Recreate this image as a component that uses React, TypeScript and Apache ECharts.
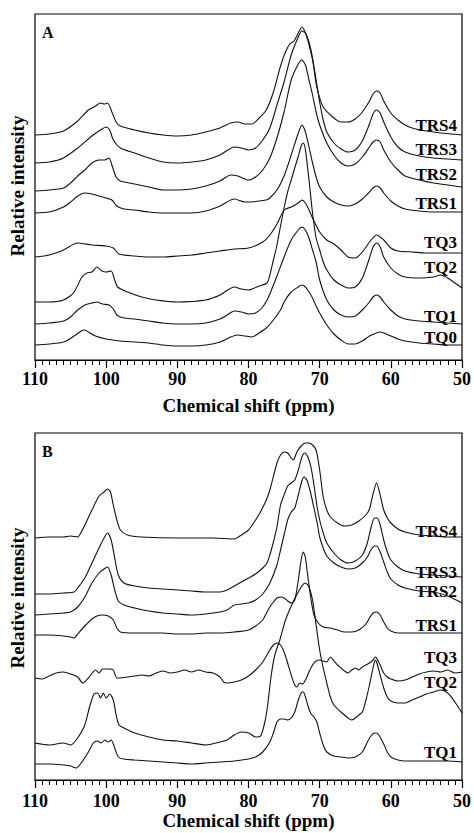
import React, { useEffect, useRef } from "react";
import * as echarts from "echarts";

// Panel A spectra: [chemical shift (ppm), relative intensity (stacked, arbitrary units)]
const aTRS4: number[][] = [[110,225],[108,226],[106,229],[104,239],[102.5,250],[101.5,254],[100.8,257],[100.3,256],[99.8,257],[99.2,248],[98.6,238],[98,234],[96,230],[94,227],[92,225],[90,224],[88,225],[86,228],[84,232],[82.5,237],[81.5,238],[80.5,236],[79.5,236],[78.5,242],[77.5,250],[76.5,268],[75.5,294],[74.8,308],[74.2,316],[73.6,319],[73,327],[72.5,333],[71.8,323],[71,300],[70.4,273],[69.5,253],[68,242],[67,238],[66,238],[65,241],[64,248],[63,259],[62.5,266],[62,269],[61.5,267],[61,259],[60,247],[59,240],[58,235],[57,232],[55,229],[53,227],[50,225]];
const aTRS3: number[][] = [[110,197],[108,198],[106,202],[104,212],[102,224],[100.8,230],[100,233],[99.5,230],[99,220],[98,212],[96,207],[94,202],[92,198],[90,197],[88,198],[86,200],[84,205],[82,213],[81,212],[80,210],[79,212],[78,220],[77,232],[76,255],[75,278],[74,305],[73,323],[72.5,329],[72,327],[71.5,318],[71,302],[70.5,280],[70,258],[69.5,240],[69,228],[68,217],[67,211],[66,208],[65,210],[64,219],[63,236],[62.5,246],[62,250],[61.5,247],[61,238],[60,223],[59,213],[58,208],[56,204],[54,202],[52,201],[50,200]];
const aTRS2: number[][] = [[110,169],[108,170],[106,172],[105,177],[104,184],[103,190],[102,197],[101,200],[100.2,200],[99.6,202],[99.2,195],[98.6,183],[98,179],[96,176],[94,173],[92,170],[90,170],[88,171],[86,174],[84,179],[82.5,185],[81.5,184],[80,180],[79,183],[78,190],[77,202],[76,222],[75,248],[74,280],[73,296],[72.5,300],[72,295],[71.5,280],[71,265],[70.5,248],[70,235],[69,217],[68,205],[67,197],[66,194],[65,196],[64,203],[63,213],[62.5,218],[62,220],[61.5,218],[61,210],[60,198],[59,190],[58,184],[56,180],[54,177],[52,175],[50,173]];
const aTRS1: number[][] = [[110,147],[108,148],[106,153],[105,158],[104,164],[103,167],[102,166],[101,164],[100,162],[99.2,160],[98.5,154],[97.5,151],[96,150],[94,148],[92,147],[90,147],[88,147],[86,149],[84,154],[82,161],[80.5,158],[79.5,158],[78.5,159],[77.5,160],[77,162],[76,170],[75,184],[74,205],[73,227],[72.5,235],[72,228],[71.5,213],[71,197],[70.5,183],[70,173],[69,163],[68,158],[67,155],[66,154],[65,156],[64,161],[63,168],[62.5,172],[62,174],[61.5,172],[61,167],[60,159],[59,154],[58,151],[56,149],[54,148],[52,148],[50,148]];
const aTQ3: number[][] = [[110,103],[108,105],[106,110],[104,117],[102,115],[100,114],[99,112],[98.2,106],[96,104],[94,103],[92,103],[90,104],[88,105],[86,107],[84,109],[82,111],[80,112],[78,118],[77,125],[76,136],[75,150],[74,153],[73,157],[72.5,160],[72,157],[71.5,150],[71,142],[70,128],[69,120],[68,116],[67,110],[66,103],[65,102],[64,108],[63,118],[62,125],[61,120],[60,112],[59,109],[57,108],[55,107],[50,107]];
const aTQ2: number[][] = [[110,58],[108,58],[106,60],[104.6,67],[103.4,83],[102.7,87],[102,88],[101.3,93],[100.6,89],[100,88],[99.3,89],[98.8,80],[98.4,73],[97,68],[95,63],[93,60],[90,58],[86,60],[84,65],[82,73],[81,71],[80,70],[78.5,74],[77.4,77],[77,85],[76.5,100],[76,115],[75.5,134],[75,152],[74.5,168],[74,180],[73.5,192],[73,204],[72.6,214],[72.3,217],[72,210],[71.5,180],[71,147],[70.5,122],[70,110],[69.5,98],[69,90],[68,80],[67,75],[66,72],[65,73],[64,82],[63,102],[62.5,113],[62,117],[61.5,113],[61,103],[60,92],[59,86],[58,83],[56,82],[54,83],[53,85],[52,82],[51,77],[50,72]];
const aTQ1: number[][] = [[110,36],[108,37],[106,39],[105,43],[104,50],[103,55],[102,57],[101.3,58],[100.5,56],[99.6,55],[99,51],[98.5,45],[97.5,42],[96,41],[94,39],[92,37],[90,36],[88,36],[86,37],[84,41],[83,45],[82,49],[81,48],[80,46],[79,47],[78,53],[77.4,60],[77,66],[76,84],[75,103],[74,120],[73,130],[72.5,133],[72,130],[71.5,122],[71,110],[70.5,98],[70,80],[69,60],[68,50],[67,45],[66,43],[65,44],[64,50],[63,58],[62.5,63],[62,65],[61.5,63],[61,58],[60,50],[59,44],[58,41],[56,39],[54,38],[52,37],[50,36]];
const aTQ0: number[][] = [[110,15],[108,16],[106,18],[104.5,24],[103.5,29],[103,30],[102.5,28],[101.5,24],[100,21],[98,19],[96,18],[94,17],[92,15],[90,14],[88,14],[86,15],[84,18],[82.5,23],[81.5,25],[80.5,24],[79.5,23],[78.5,27],[77.5,32],[76.5,40],[75.5,50],[75,58],[74,68],[73,73],[72.5,75],[72,73],[71.5,68],[71,62],[70.5,54],[70,47],[69,35],[68,26],[67,20],[66,16],[65,16],[64,19],[63,24],[62,27],[61.5,28],[61,27],[60,24],[59,21],[58,19],[56,17],[54,16],[52,15],[50,15]];

// Panel B spectra
const bTRS4: number[][] = [[110,242],[108,243],[106,243],[105,244],[104,243],[103.5,248],[103,255],[102,270],[101,284],[100.3,288],[99.8,291],[99.4,288],[99,275],[98.5,260],[98,250],[97,245],[95,243],[90,242],[85,242],[82,241],[81,245],[80,250],[79,260],[78.4,267],[77.5,280],[77,290],[76,317],[75.5,325],[75,328],[74.5,327],[74,322],[73.7,320],[73.2,328],[72.6,334],[72,337],[71.5,337],[71,335],[70.5,330],[70,310],[69.5,283],[69,270],[68.5,263],[67.5,257],[66.5,254],[65.5,255],[64.5,259],[63.5,265],[63,271],[62.5,286],[62,297],[61.5,285],[61,270],[60.5,262],[60,257],[59,251],[58,248],[56,245],[54,244],[52,243],[50,243]];
const bTRS3: number[][] = [[110,186],[108,186],[106,187],[104.5,188],[104,192],[103,202],[102,217],[101,232],[100.3,242],[99.8,247],[99.3,240],[98.8,222],[98.3,205],[97.5,197],[96,194],[94,192],[92,191],[90,190],[88,189],[86,188],[84,188],[83,190],[82,194],[81,198],[80,202],[79,206],[78,212],[77.4,217],[77,225],[76.5,238],[76,253],[75.5,275],[75,285],[74.5,294],[74,297],[73.5,300],[73,310],[72.5,323],[72.1,327],[71.6,322],[71.2,312],[70.8,295],[70.4,275],[70,260],[69.5,247],[69,237],[68,227],[67,220],[66,217],[65,219],[64,225],[63.3,237],[62.8,252],[62.3,262],[61.9,262],[61.5,255],[61,240],[60.5,228],[60,220],[59,213],[58,209],[56,206],[54,205],[52,204],[50,203]];
const bTRS2: number[][] = [[110,165],[108,166],[106,167],[105,168],[104,173],[103,183],[102,197],[101,207],[100.3,211],[99.8,213],[99.3,205],[98.8,190],[98.3,179],[97.5,175],[96,172],[94,169],[92,167],[90,166],[88,165],[86,166],[84,168],[83,170],[82,175],[81,176],[80,177],[79,180],[78,186],[77,197],[76,215],[75.5,230],[75,245],[74.5,260],[74,268],[73.5,272],[73,285],[72.5,299],[72.2,303],[71.8,300],[71.3,288],[70.8,272],[70.3,255],[70,243],[69.5,232],[69,224],[68,217],[67,213],[66,211],[65,212],[64,217],[63.3,223],[62.8,230],[62.3,234],[62,234],[61.5,228],[61,218],[60.5,208],[60,201],[59,195],[58,192],[56,189],[54,188],[52,184],[50,177]];
const bTRS1: number[][] = [[110,145],[108,145],[106,144],[105,143],[104.5,142],[104,146],[103,154],[102,161],[101.3,164],[100.5,165],[99.7,164],[99,160],[98.5,152],[98,148],[96,147],[94,147],[92,147],[90,146],[88,146],[86,147],[84,147],[82,148],[80,150],[79,154],[78,160],[77.4,168],[77,173],[76.5,178],[76,182],[75.5,183],[75,182],[74.5,179],[74,177],[73.5,180],[73,200],[72.6,220],[72.3,228],[72,222],[71.6,200],[71.2,180],[70.8,165],[70.2,157],[69.5,153],[68.5,152],[67.5,150],[66.5,148],[65.5,148],[64.5,150],[63.5,156],[63,162],[62.5,167],[62,168],[61.5,165],[61,158],[60.5,152],[60,149],[59,147],[57,147],[55,147],[50,147]];
const bTQ3: number[][] = [[110,102],[109,101],[108,104],[107,107],[106,108],[105,106],[104,103],[103.3,97],[102.5,102],[101.5,110],[101,107],[100.5,111],[99.5,111],[99,110],[98.5,102],[98,102],[97,103],[96,104],[95,105],[94,104],[93,107],[92,109],[91,107],[90,108],[89,110],[88,108],[87,110],[86,108],[85,107],[84,103],[83.5,98],[83,97],[82,98],[81,100],[80,104],[79,110],[78,118],[77,130],[76.5,135],[76,137],[75.5,135],[75,128],[74.5,117],[74,105],[73.5,95],[73.2,93],[72.8,97],[72.4,96],[72,100],[71.5,108],[71,115],[70.5,119],[70,120],[69.5,119],[69,118],[68.5,123],[68,119],[67.5,115],[67,112],[66.5,109],[66,107],[65.5,110],[65,112],[64.5,110],[64,113],[63.5,115],[63,117],[62.5,120],[62.2,123],[62,122],[61.5,115],[61,107],[60.5,103],[60,101],[59,99],[58,100],[57,103],[56,106],[55,108],[54,109],[53,108],[52,110],[51,107],[50,108]];
const bTQ2: number[][] = [[110,37],[108,35],[106,37],[105,35],[104,42],[103,55],[102.3,74],[101.7,86],[101.2,87],[100.8,82],[100.4,87],[100,82],[99.5,86],[99,80],[98.6,65],[98.2,55],[97.5,52],[96,47],[94,43],[92,40],[90,39],[88,37],[86,35],[84,38],[83,40],[82,45],[81,48],[80,47],[79,43],[78.3,44],[77.8,55],[77.4,70],[76.8,105],[76.3,125],[75.6,140],[74.8,160],[73.8,177],[73,188],[72.4,195],[72,197],[71.5,193],[71,180],[70.5,155],[70,130],[69.5,112],[69,97],[68.5,83],[68,75],[67,68],[66,62],[65.5,60],[65,62],[64.5,65],[64,68],[63.5,80],[63,95],[62.5,112],[62.2,120],[62,118],[61.5,105],[61,92],[60.5,83],[60,79],[59,77],[58,77],[57,80],[56,83],[55,86],[54,88],[53,90],[52,87],[51,78],[50,67]];
const bTQ1: number[][] = [[110,16],[108,16],[106,15],[105,14],[104.2,12],[103.5,17],[102.5,28],[101.8,37],[101.2,39],[100.7,37],[100.2,40],[99.7,38],[99.3,40],[98.8,32],[98.3,23],[97.5,21],[96,20],[94,19],[92,18],[90,17],[88,16],[86,17],[84,18],[82,19],[80,21],[79,23],[78,28],[77,38],[76.5,47],[76,58],[75.5,61],[75,61],[74.5,60],[74,62],[73.5,68],[73,80],[72.6,87],[72.3,88],[72,83],[71.6,73],[71.2,66],[70.8,63],[70.4,58],[70,47],[69.5,35],[69,28],[68,24],[67,23],[66,22],[65,23],[64,28],[63.3,38],[62.8,44],[62.3,47],[62,47],[61.6,44],[61,36],[60.5,28],[60,23],[59,20],[58,19],[56,19],[54,19],[52,19],[50,18]];

const namesA = ["TRS4", "TRS3", "TRS2", "TRS1", "TQ3", "TQ2", "TQ1", "TQ0"];
const namesB = ["TRS4", "TRS3", "TRS2", "TRS1", "TQ3", "TQ2", "TQ1"];
const seriesA = [aTRS4, aTRS3, aTRS2, aTRS1, aTQ3, aTQ2, aTQ1, aTQ0];
const seriesB = [bTRS4, bTRS3, bTRS2, bTRS1, bTQ3, bTQ2, bTQ1];
const xTicks = { min: 50, max: 110, interval: 10 };
const axisTitle = "Chemical shift (ppm)";
const yTitle = "Relative intensity";

// layout (pixels)
const labelYA = [125, 149, 174, 203, 242, 267, 316, 337];
const labelYB = [531, 572, 591, 625, 657, 682, 752];

const FONT = "'Liberation Serif', 'Times New Roman', serif";

export default function App() {
  const ref = useRef<HTMLDivElement>(null);
  useEffect(() => {
    if (!ref.current) return;
    const chart = echarts.init(ref.current, null, { renderer: "svg" });
    const xAxis = (gridIndex: number, gap: number, margin: number) => ({
      type: "value",
      gridIndex,
      min: xTicks.min,
      max: xTicks.max,
      interval: xTicks.interval,
      inverse: true,
      axisLine: { show: true, onZero: false, lineStyle: { color: "#000", width: 1.2 } },
      axisTick: { show: true, inside: false, length: 8, lineStyle: { color: "#000", width: 1.2 } },
      minorTick: { show: true, splitNumber: 10, length: 5, lineStyle: { color: "#000", width: 1 } },
      splitLine: { show: false },
      minorSplitLine: { show: false },
      axisLabel: { color: "#000", fontFamily: FONT, fontWeight: "bold", fontSize: 18, margin },
      name: axisTitle,
      nameLocation: "middle",
      nameGap: gap,
      nameTextStyle: { color: "#000", fontFamily: FONT, fontWeight: "bold", fontSize: 19 },
    });
    const yAxis = (gridIndex: number, max: number) => ({
      type: "value",
      gridIndex,
      min: 0,
      max,
      show: false,
    });
    const mk = (data: number[][], name: string, idx: number) => ({
      type: "line",
      name,
      xAxisIndex: idx,
      yAxisIndex: idx,
      data,
      symbol: "none",
      showSymbol: false,
      smooth: 0.25,
      lineStyle: { color: "#111", width: 1.1 },
      silent: true,
    });
    const labelText = (text: string, y: number) => ({
      type: "text",
      right: 474 - 457,
      y: y,
      style: {
        text,
        fill: "#000",
        font: `bold 17px ${FONT}`,
        textAlign: "right",
        textVerticalAlign: "middle",
      },
    });
    const graphics: any[] = [];
    namesA.forEach((n, i) =>
      graphics.push({
        type: "text",
        x: 457,
        y: labelYA[i],
        style: { text: n, fill: "#000", font: `bold 17px ${FONT}`, align: "right", verticalAlign: "middle" },
      })
    );
    namesB.forEach((n, i) =>
      graphics.push({
        type: "text",
        x: 457,
        y: labelYB[i],
        style: { text: n, fill: "#000", font: `bold 17px ${FONT}`, align: "right", verticalAlign: "middle" },
      })
    );
    graphics.push({
      type: "text",
      x: 42,
      y: 32,
      style: { text: "A", fill: "#000", font: `bold 16px ${FONT}`, align: "left", verticalAlign: "middle" },
    });
    graphics.push({
      type: "text",
      x: 42,
      y: 451,
      style: { text: "B", fill: "#000", font: `bold 16px ${FONT}`, align: "left", verticalAlign: "middle" },
    });
    [186, 598].forEach((cy) =>
      graphics.push({
        type: "text",
        x: 17,
        y: cy,
        rotation: Math.PI / 2,
        style: { text: yTitle, fill: "#000", font: `bold 19px ${FONT}`, align: "center", verticalAlign: "middle" },
      })
    );
    void labelText;
    chart.setOption({
      animation: false,
      backgroundColor: "#fff",
      grid: [
        { left: 35, top: 14, width: 427, height: 346, show: true, borderColor: "#000", borderWidth: 1.2, backgroundColor: "transparent" },
        { left: 35, top: 433, width: 427, height: 347, show: true, borderColor: "#000", borderWidth: 1.2, backgroundColor: "transparent" },
      ],
      xAxis: [xAxis(0, 36, 10), xAxis(1, 24, 12)],
      yAxis: [yAxis(0, 346), yAxis(1, 347)],
      series: [
        ...seriesA.map((d, i) => mk(d, namesA[i], 0)),
        ...seriesB.map((d, i) => mk(d, namesB[i], 1)),
      ],
      graphic: graphics,
    });
    return () => chart.dispose();
  }, []);
  return (
    <div
      ref={ref}
      style={{ position: "absolute", left: 0, top: 0, width: 474, height: 833, background: "#fff" }}
    />
  );
}
